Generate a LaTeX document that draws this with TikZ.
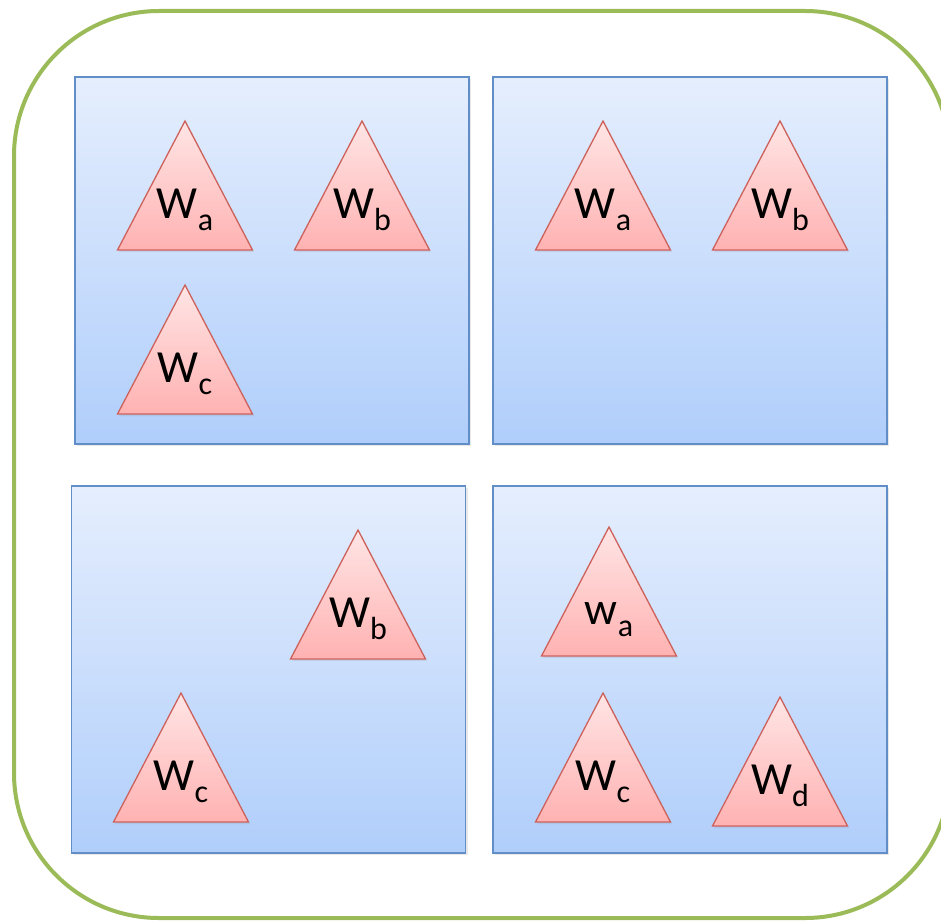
\documentclass[tikz,border=0pt]{standalone}
\usepackage{fontspec}
\setmainfont{Carlito}
\usetikzlibrary{shadows}
\definecolor{outergreen}{RGB}{155,187,89}
\definecolor{boxtop}{RGB}{229,238,253}
\definecolor{boxbot}{RGB}{176,206,251}
\definecolor{boxline}{RGB}{98,142,200}
\definecolor{tritop}{RGB}{255,229,229}
\definecolor{tribot}{RGB}{255,178,178}
\definecolor{triline}{RGB}{205,98,92}
\newcommand{\Wl}[2]{#1\raisebox{-12pt}{\fontsize{32}{32}\selectfont #2}}
\newcommand{\mytri}[4]{%
  \path[tri] (#2,#3) -- (#2+67.5,#3+129) -- (#2-67.5,#3+129) -- cycle;
  \node[lbl] (#1) at (#2,#3+97) {#4};}
\begin{document}
\begin{tikzpicture}[x=1pt,y=-1pt,
  outer/.style={draw=outergreen, line width=4pt, rounded corners=145pt},
  box/.style={draw=boxline, line width=1.3pt, top color=boxtop, bottom color=boxbot,
    minimum width=394pt, minimum height=367pt, inner sep=0pt,
    drop shadow={opacity=0.18, shadow xshift=2pt, shadow yshift=-2pt}},
  tri/.style={draw=triline, line width=1.3pt, top color=tritop, bottom color=tribot, line join=miter,
    drop shadow={opacity=0.15, shadow xshift=1.5pt, shadow yshift=-2pt}},
  lbl/.style={anchor=base, inner sep=0pt, font=\fontsize{46}{46}\selectfont}]
\useasboundingbox (0,0) rectangle (941,923);
\clip (0,0) rectangle (941,923);
\fill[white] (0,0) rectangle (941,923);
\draw[outer] (14,11) rectangle (950,918);
\node[box] (tl) at (272,260.5) {};
\node[box] (tr) at (690,260.5) {};
\node[box] (bl) at (268.5,669.5) {};
\node[box] (br) at (690,669.5) {};
\mytri{tlA}{185}{121}{\Wl{W}{a}}
\mytri{tlB}{362}{121}{\Wl{W}{b}}
\mytri{tlC}{185}{285}{\Wl{W}{c}}
\mytri{trA}{603}{121}{\Wl{W}{a}}
\mytri{trB}{780}{121}{\Wl{W}{b}}
\mytri{blB}{358}{530}{\Wl{W}{b}}
\mytri{blC}{181}{693}{\Wl{W}{c}}
\mytri{brA}{609}{527}{\Wl{w}{a}}
\mytri{brC}{603}{693}{\Wl{W}{c}}
\mytri{brD}{780}{697}{\Wl{W}{d}}
\end{tikzpicture}
\end{document}
